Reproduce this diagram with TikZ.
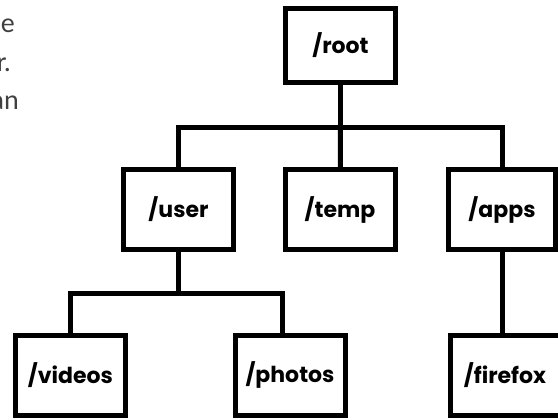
\documentclass[tikz,border=0pt]{standalone}
\usepackage{fontspec}
\setmainfont{Poppins}
\newfontfamily\notefont{Carlito}

\begin{document}
\begin{tikzpicture}[x=1pt,y=-1pt,
    dirbox/.style={draw,line width=5pt,minimum width=110pt,minimum height=80pt,
        inner sep=0pt,font=\fontsize{22}{26}\selectfont\bfseries},
    branch/.style={line width=5pt},
    fragment/.style={anchor=base east,inner sep=0pt,text=black!75,
        font=\notefont\fontsize{28}{34}\selectfont}]
    \pgfmathsetmacro{\rootrow}{45.5}
    \pgfmathsetmacro{\toprow}{209.5}
    \pgfmathsetmacro{\bottomrow}{375}
    \pgfmathsetmacro{\barone}{128}
    \pgfmathsetmacro{\bartwo}{293}
    \useasboundingbox (0,0) rectangle (558,420);
    \clip (0,0) rectangle (558,420);
    % end of the text that runs on from the left
    \node[fragment] (lineone) at (15,33) {e};
    \node[fragment] (linetwo) at (11,72) {r.};
    \node[fragment] (linethree) at (19,110) {an};
    % the folders
    \node[dirbox,minimum height=74pt] (root) at (340.5,\rootrow) {/root};
    \node[dirbox] (user) at (178.5,\toprow) {/user};
    \node[dirbox] (temp) at (340,\toprow) {/temp};
    \node[dirbox,minimum width=107pt] (apps) at (502,\toprow) {/apps};
    \node[dirbox] (videos) at (70.5,\bottomrow) {/videos};
    \node[dirbox] (photos) at (290,\bottomrow) {/photos};
    \node[dirbox] (firefox) at (505,\bottomrow) {/firefox};
    % the branches
    \coordinate (hubone) at (340.5,\barone);
    \coordinate (hubtwo) at (178.5,\bartwo);
    \draw[branch] (root) -- (hubone);
    \draw[branch] (user.north) |- (hubone) -| (apps.north);
    \draw[branch] (hubone) -- (temp);
    \draw[branch] (user) -- (hubtwo);
    \draw[branch] (videos.north) |- (hubtwo) -| ([xshift=-8pt]photos.north);
    \draw[branch] (apps) -- (apps.south |- firefox.north);
\end{tikzpicture}
\end{document}
